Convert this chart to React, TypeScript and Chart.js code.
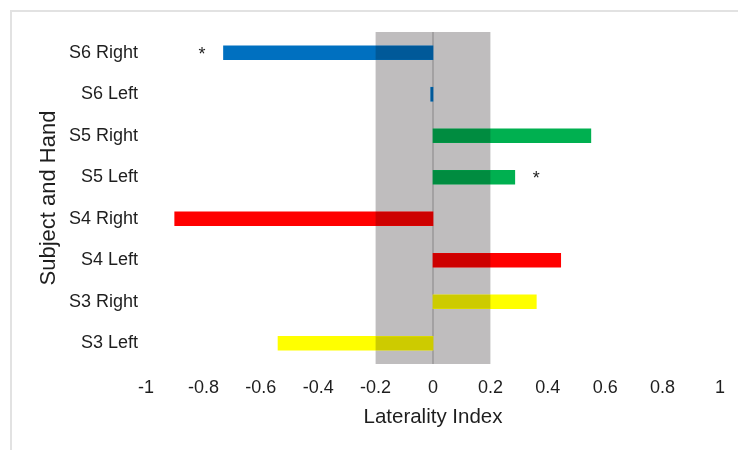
import React, { useEffect, useRef } from "react";
import { Chart, registerables } from "chart.js";

Chart.register(...registerables);

const categories = ["S6 Right", "S6 Left", "S5 Right", "S5 Left", "S4 Right", "S4 Left", "S3 Right", "S3 Left"];
const lateralityValues = [-0.73, -0.008, 0.55, 0.285, -0.9, 0.445, 0.36, -0.54];
const barColors = ["#0070C0", "#0070C0", "#00B050", "#00B050", "#FF0000", "#FF0000", "#FFFF00", "#FFFF00"];
const significant = [true, false, false, true, false, false, false, false];
const xTickLabels = ["-1", "-0.8", "-0.6", "-0.4", "-0.2", "0", "0.2", "0.4", "0.6", "0.8", "1"];
const neutralBand = [-0.2, 0.2];

const FONT = "'Liberation Sans', Arial, sans-serif";
const TEXT = "#1e1e1e";

const bandPlugin = {
  id: "bandPlugin",
  beforeDatasetsDraw(chart: any) {
    const { ctx, chartArea, scales } = chart;
    const x = scales.x;
    const x0 = x.getPixelForValue(neutralBand[0]);
    const x1 = x.getPixelForValue(neutralBand[1]);
    ctx.save();
    ctx.fillStyle = "#bfbdbe";
    ctx.fillRect(x0, chartArea.top, x1 - x0, chartArea.bottom - chartArea.top);
    const xz = x.getPixelForValue(0);
    ctx.strokeStyle = "#9a9899";
    ctx.lineWidth = 1.5;
    ctx.beginPath();
    ctx.moveTo(xz, chartArea.top);
    ctx.lineTo(xz, chartArea.bottom);
    ctx.stroke();
    ctx.restore();
  },
  afterDatasetsDraw(chart: any) {
    const { ctx, chartArea, scales } = chart;
    const x = scales.x;
    const y = scales.y;
    const x0 = x.getPixelForValue(neutralBand[0]);
    const x1 = x.getPixelForValue(neutralBand[1]);
    const meta = chart.getDatasetMeta(0);
    ctx.save();
    ctx.beginPath();
    ctx.rect(x0, chartArea.top, x1 - x0, chartArea.bottom - chartArea.top);
    ctx.clip();
    ctx.globalCompositeOperation = "multiply";
    ctx.fillStyle = "rgb(205,203,204)";
    meta.data.forEach((el: any) => {
      const p = el.getProps(["x", "y", "base", "height"], true);
      const left = Math.min(p.x, p.base);
      const w = Math.abs(p.x - p.base);
      ctx.fillRect(left, p.y - p.height / 2, w, p.height);
    });
    ctx.restore();

    ctx.save();
    ctx.fillStyle = TEXT;
    ctx.font = `18px ${FONT}`;
    ctx.textAlign = "center";
    ctx.textBaseline = "alphabetic";
    significant.forEach((s, i) => {
      if (!s) return;
      const v = lateralityValues[i];
      const pos = v + Math.sign(v) * 0.075;
      ctx.fillText("*", x.getPixelForValue(pos), y.getPixelForValue(i) + 7);
    });
    ctx.restore();
  },
};

export default function App() {
  const canvasRef = useRef<HTMLCanvasElement | null>(null);

  useEffect(() => {
    if (!canvasRef.current) return;
    const chart = new Chart(canvasRef.current, {
      type: "bar",
      data: {
        labels: categories,
        datasets: [
          {
            data: lateralityValues,
            backgroundColor: barColors,
            borderWidth: 0,
            barThickness: 14,
          },
        ],
      },
      options: {
        indexAxis: "y",
        animation: false,
        responsive: false,
        maintainAspectRatio: false,
        layout: { padding: { left: 0, top: 32, right: 16, bottom: 0 } },
        plugins: {
          legend: { display: false },
          tooltip: { enabled: false },
        },
        scales: {
          x: {
            type: "linear",
            min: -1,
            max: 1,
            grid: { display: false, drawTicks: false },
            border: { display: false },
            ticks: {
              stepSize: 0.2,
              padding: 13,
              color: TEXT,
              font: { size: 18, family: FONT },
              callback: (_v: any, i: number) => xTickLabels[i],
              maxRotation: 0,
              autoSkip: false,
            },
            title: {
              display: true,
              text: "Laterality Index",
              color: TEXT,
              font: { size: 20.5, family: FONT },
              padding: { top: 0, bottom: 20 },
            },
            afterFit: (scale: any) => {
              scale.height = 86;
            },
          },
          y: {
            grid: { display: false, drawTicks: false },
            border: { display: false },
            ticks: {
              padding: 8,
              color: TEXT,
              font: { size: 18, family: FONT },
            },
            title: {
              display: true,
              text: "Subject and Hand",
              color: TEXT,
              font: { size: 22, family: FONT },
              padding: { top: 36, bottom: 0 },
            },
            afterFit: (scale: any) => {
              scale.width = 146;
            },
          },
        },
      },
      plugins: [bandPlugin],
    });
    return () => chart.destroy();
  }, []);

  return (
    <div style={{ position: "fixed", left: 0, top: 0, width: 738, height: 450, background: "#fff" }}>
      <div
        style={{
          position: "absolute",
          left: 10,
          top: 10,
          width: 728,
          height: 440,
          borderTop: "2px solid #e2e2e2",
          borderLeft: "2px solid #e2e2e2",
          boxSizing: "border-box",
        }}
      />
      <canvas ref={canvasRef} width={738} height={450} style={{ position: "absolute", left: 0, top: 0, width: 738, height: 450 }} />
    </div>
  );
}
